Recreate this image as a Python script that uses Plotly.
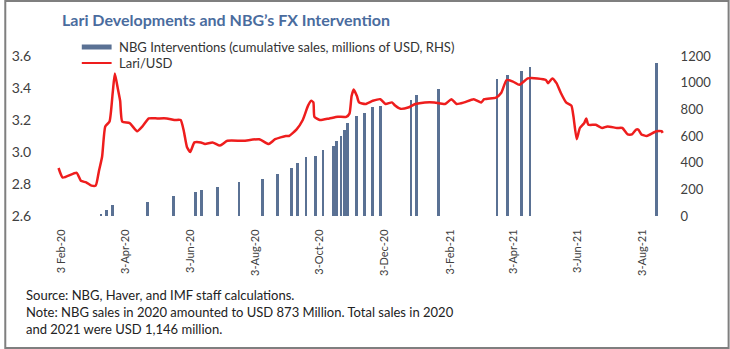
import plotly.graph_objects as go

# Lari/USD exchange rate (left axis)
lari_dates = [
    "2020-01-31", "2020-02-04", "2020-02-17", "2020-02-21", "2020-02-26", "2020-03-02",
    "2020-03-06", "2020-03-09", "2020-03-12", "2020-03-15", "2020-03-19", "2020-03-22",
    "2020-03-24", "2020-03-27", "2020-03-29", "2020-03-31", "2020-04-07", "2020-04-14",
    "2020-04-19", "2020-04-25", "2020-05-03", "2020-05-12", "2020-05-19", "2020-05-25",
    "2020-05-28", "2020-05-31", "2020-06-03", "2020-06-07", "2020-06-13", "2020-06-17",
    "2020-06-24", "2020-07-01", "2020-07-08", "2020-07-23", "2020-08-07", "2020-08-16",
    "2020-08-22", "2020-09-01", "2020-09-04", "2020-09-11", "2020-09-17", "2020-09-22",
    "2020-09-25", "2020-09-27", "2020-09-28", "2020-10-03", "2020-10-12", "2020-10-20",
    "2020-10-28", "2020-10-31", "2020-11-02", "2020-11-04", "2020-11-07", "2020-11-09",
    "2020-11-15", "2020-11-22", "2020-11-29", "2020-12-04", "2020-12-10", "2020-12-13",
    "2020-12-18", "2020-12-26", "2021-01-01", "2021-01-10", "2021-01-19", "2021-01-29",
    "2021-02-04", "2021-02-09", "2021-02-16", "2021-02-25", "2021-03-04", "2021-03-07",
    "2021-03-18", "2021-03-23", "2021-03-28", "2021-04-03", "2021-04-09", "2021-04-17",
    "2021-04-26", "2021-05-04", "2021-05-06", "2021-05-10", "2021-05-14", "2021-05-18",
    "2021-05-23", "2021-05-28", "2021-05-30", "2021-06-02", "2021-06-05", "2021-06-09",
    "2021-06-11", "2021-06-13", "2021-06-20", "2021-06-26", "2021-07-01", "2021-07-10",
    "2021-07-15", "2021-07-20", "2021-07-24", "2021-07-28", "2021-07-30", "2021-08-02",
    "2021-08-07", "2021-08-16", "2021-08-21", "2021-08-22",
]
lari_usd = [
    2.90, 2.84, 2.87, 2.82, 2.81, 2.79,
    2.79, 2.88, 2.97, 3.16, 3.19, 3.37,
    3.49, 3.39, 3.32, 3.19, 3.18, 3.13,
    3.16, 3.21, 3.21, 3.21, 3.20, 3.20,
    3.13, 3.03, 3.00, 3.06, 3.06, 3.05,
    3.06, 3.04, 3.07, 3.07, 3.08, 3.05,
    3.08, 3.10, 3.10, 3.14, 3.20, 3.29,
    3.32, 3.31, 3.22, 3.20, 3.21, 3.22,
    3.22, 3.24, 3.35, 3.39, 3.35, 3.31,
    3.30, 3.32, 3.33, 3.30, 3.31, 3.29,
    3.27, 3.28, 3.30, 3.31, 3.31, 3.30,
    3.33, 3.30, 3.31, 3.33, 3.31, 3.33,
    3.34, 3.37, 3.45, 3.44, 3.42, 3.46,
    3.46, 3.45, 3.43, 3.46, 3.43, 3.37,
    3.31, 3.29, 3.22, 3.08, 3.15, 3.18,
    3.21, 3.17, 3.17, 3.15, 3.16, 3.15,
    3.15, 3.11, 3.11, 3.14, 3.14, 3.11,
    3.10, 3.13, 3.13, 3.12,
]

# NBG interventions, cumulative sales in millions of USD (right axis)
nbg_dates = [
    "2020-03-11", "2020-03-16", "2020-03-22", "2020-04-24", "2020-05-18", "2020-06-08",
    "2020-06-14", "2020-06-29", "2020-07-19", "2020-08-10", "2020-08-24", "2020-09-06",
    "2020-09-12", "2020-09-20", "2020-09-29", "2020-10-06", "2020-10-16", "2020-10-19",
    "2020-10-23", "2020-10-26", "2020-10-29", "2020-11-07", "2020-11-14", "2020-11-22",
    "2020-11-29", "2020-12-28", "2021-01-02", "2021-01-23", "2021-03-19", "2021-03-29",
    "2021-04-11", "2021-04-19", "2021-08-16",
]
nbg_sales = [
    15, 45, 85, 107, 152, 180,
    195, 217, 255, 277, 312, 357,
    397, 440, 447, 492, 522, 562,
    600, 642, 700, 747, 770, 820,
    825, 873, 907, 950, 1030, 1057,
    1085, 1117, 1146,
]

# x-axis ticks
tick_dates = [
    "2020-02-03", "2020-04-03", "2020-06-03", "2020-08-03", "2020-10-03",
    "2020-12-03", "2021-02-03", "2021-04-03", "2021-06-03", "2021-08-03",
]
tick_labels = [
    "3 Feb-20", "3-Apr-20", "3-Jun-20", "3-Aug-20", "3-Oct-20",
    "3-Dec-20", "3-Feb-21", "3-Apr-21", "3-Jun-21", "3-Aug-21",
]

W, H = 730, 349
ML, MR, MT, MB = 45, 62, 56, 133
PW, PH = W - ML - MR, H - MT - MB

BAR_COLOR = "#5a7194"
LINE_COLOR = "#ee1d1d"
TEXT_COLOR = "#404040"
FONT = "Lato"


def px(x):
    return (x - ML) / PW


def py(y):
    return 1 - (y - MT) / PH


fig = go.Figure()

fig.add_trace(go.Bar(
    x=nbg_dates, y=nbg_sales, yaxis="y",
    width=2.7 * 86400000,
    marker=dict(color=BAR_COLOR, line=dict(width=0)),
    name="NBG Interventions (cumulative sales, millions of USD, RHS)",
    showlegend=False,
))

fig.add_trace(go.Scatter(
    x=lari_dates, y=lari_usd, yaxis="y2", mode="lines",
    line=dict(color=LINE_COLOR, width=2.5, shape="spline", smoothing=0.5),
    name="Lari/USD",
    showlegend=False,
))

# legend drawn as swatches + labels
shapes = [
    dict(type="rect", xref="paper", yref="paper",
         x0=px(78), x1=px(108), y0=py(49.5), y1=py(44.5),
         fillcolor=BAR_COLOR, line=dict(width=0)),
    dict(type="line", xref="paper", yref="paper",
         x0=px(78), x1=px(108), y0=py(63), y1=py(63),
         line=dict(color=LINE_COLOR, width=2)),
    # outer frame
    dict(type="rect", xref="paper", yref="paper",
         x0=px(1), x1=px(W - 1), y0=py(H - 1), y1=py(1),
         line=dict(color="#7f7f7f", width=2), fillcolor="rgba(0,0,0,0)"),
]

annotations = [
    dict(text="NBG Interventions (cumulative sales, millions of USD, RHS)",
         xref="paper", yref="paper", x=px(113), y=py(47), xanchor="left", yanchor="middle",
         showarrow=False, font=dict(family=FONT, size=13, color="#333333")),
    dict(text="Lari/USD",
         xref="paper", yref="paper", x=px(113), y=py(63), xanchor="left", yanchor="middle",
         showarrow=False, font=dict(family=FONT, size=13, color="#333333")),
    dict(text="Source: NBG, Haver, and IMF staff calculations.<br>"
              "Note: NBG sales in 2020 amounted to USD 873 Million. Total sales in 2020<br>"
              "and 2021 were USD 1,146 million.",
         xref="paper", yref="paper", x=px(20), y=py(285), xanchor="left", yanchor="top",
         align="left", showarrow=False,
         font=dict(family=FONT, size=13, color="#222222")),
]

fig.update_layout(
    width=W, height=H,
    margin=dict(l=ML, r=MR, t=MT, b=MB),
    paper_bgcolor="white", plot_bgcolor="white",
    title=dict(text="<b>Lari Developments and NBG’s FX Intervention</b>",
               xref="container", yref="container",
               x=62 / W, xanchor="left", y=1 - 20 / H, yanchor="middle",
               font=dict(family=FONT, size=16, color="#4a6c9e")),
    font=dict(family=FONT, color=TEXT_COLOR),
    showlegend=False,
    bargap=0,
    xaxis=dict(
        type="date", range=["2020-01-22", "2021-08-27"],
        tickvals=tick_dates, ticktext=tick_labels, tickangle=-90,
        tickfont=dict(family=FONT, size=11, color=TEXT_COLOR),
        showgrid=False, zeroline=False, showline=False,
        ticks="outside", ticklen=8, tickcolor="rgba(0,0,0,0)",
    ),
    yaxis=dict(
        side="right", range=[0, 1200], tickvals=[0, 200, 400, 600, 800, 1000, 1200],
        tickfont=dict(family=FONT, size=13, color=TEXT_COLOR),
        showgrid=False, zeroline=False, showline=False,
        ticks="outside", ticklen=9, tickcolor="rgba(0,0,0,0)",
    ),
    yaxis2=dict(
        side="left", overlaying="y", range=[2.6, 3.6],
        tickvals=[2.6, 2.8, 3.0, 3.2, 3.4, 3.6], tickformat=".1f",
        tickfont=dict(family=FONT, size=14, color=TEXT_COLOR),
        showgrid=False, zeroline=False, showline=False,
        ticks="outside", ticklen=14, tickcolor="rgba(0,0,0,0)",
    ),
    shapes=shapes,
    annotations=annotations,
)

fig.write_html("out.html")
